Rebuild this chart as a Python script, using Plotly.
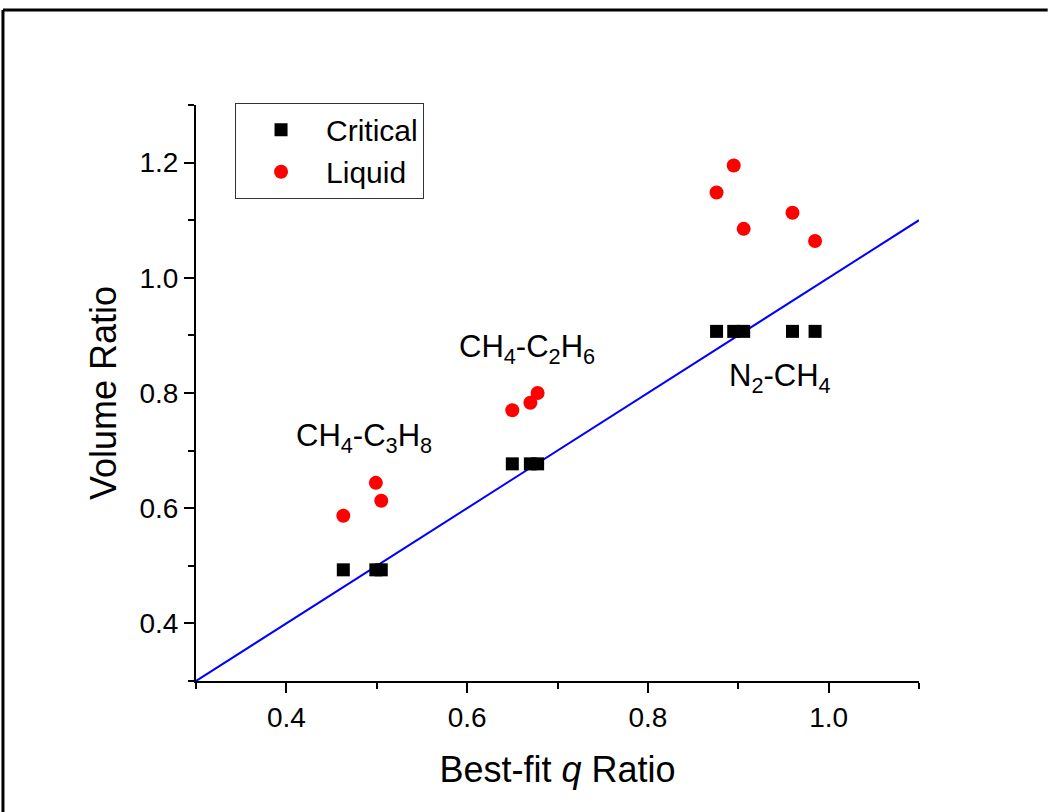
import plotly.graph_objects as go

# Data
crit_x = [0.463, 0.499, 0.505, 0.650, 0.670, 0.678, 0.876, 0.895, 0.906, 0.960, 0.985]
crit_y = [0.493, 0.493, 0.493, 0.677, 0.677, 0.677, 0.907, 0.907, 0.907, 0.907, 0.907]
liq_x = [0.463, 0.499, 0.505, 0.650, 0.670, 0.678, 0.876, 0.895, 0.906, 0.960, 0.985]
liq_y = [0.587, 0.644, 0.613, 0.770, 0.783, 0.800, 1.148, 1.195, 1.085, 1.113, 1.064]
fit_x = [0.3, 1.1]
fit_y = [0.3, 1.1]
labels = ["CH<sub>4</sub>-C<sub>3</sub>H<sub>8</sub>", "CH<sub>4</sub>-C<sub>2</sub>H<sub>6</sub>", "N<sub>2</sub>-CH<sub>4</sub>"]
label_x = [0.486, 0.666, 0.946]
label_y = [0.722, 0.877, 0.826]

FONT = "Liberation Sans, Arial, sans-serif"

fig = go.Figure()
fig.add_trace(go.Scatter(x=fit_x, y=fit_y, mode="lines", line=dict(color="#0000ff", width=2),
                         showlegend=False, hoverinfo="skip"))
fig.add_trace(go.Scatter(x=crit_x, y=crit_y, mode="markers", name="Critical",
                         marker=dict(symbol="square", size=13, color="black")))
fig.add_trace(go.Scatter(x=liq_x, y=liq_y, mode="markers", name="Liquid",
                         marker=dict(symbol="circle", size=14, color="#ff0000")))

for t, x, y in zip(labels, label_x, label_y):
    fig.add_annotation(x=x, y=y, xref="x", yref="y", text=t, showarrow=False,
                       font=dict(family=FONT, size=31, color="black"),
                       xanchor="center", yanchor="middle")

# Figure border (left and top only, as in reference)
fig.add_shape(type="line", xref="paper", yref="paper", x0=-0.267, x1=-0.267, y0=-0.23, y1=1.165,
              line=dict(color="black", width=3))
fig.add_shape(type="line", xref="paper", yref="paper", x0=-0.267, x1=1.178, y0=1.165, y1=1.165,
              line=dict(color="black", width=3))

axis_common = dict(showline=True, linecolor="black", linewidth=2, showgrid=False, zeroline=False,
                   ticks="outside", ticklen=10, tickwidth=2, tickcolor="black",
                   tickfont=dict(family=FONT, size=28, color="black"), tickformat=".1f",
                   dtick=0.2, mirror=False,
                   minor=dict(ticks="outside", ticklen=6, tickwidth=2, tickcolor="black", dtick=0.1, showgrid=False))

fig.update_xaxes(range=[0.3, 1.1], tick0=0.4, **axis_common,
                 title=dict(text="Best-fit <i>q</i> Ratio", font=dict(family=FONT, size=36, color="black"), standoff=25))
fig.update_yaxes(range=[0.3, 1.3], tick0=0.4, **axis_common,
                 title=dict(text="Volume Ratio", font=dict(family=FONT, size=36, color="black"), standoff=12))

fig.update_layout(
    width=1051, height=812,
    margin=dict(l=196, r=132, t=105, b=131),
    paper_bgcolor="white", plot_bgcolor="white",
    font=dict(family=FONT, color="black"),
    legend=dict(x=0.054, y=1.004, xanchor="left", yanchor="top",
                bordercolor="#333333", borderwidth=1, bgcolor="white",
                font=dict(family=FONT, size=30, color="black"),
                itemwidth=80),
)

fig.write_html("out.html")
